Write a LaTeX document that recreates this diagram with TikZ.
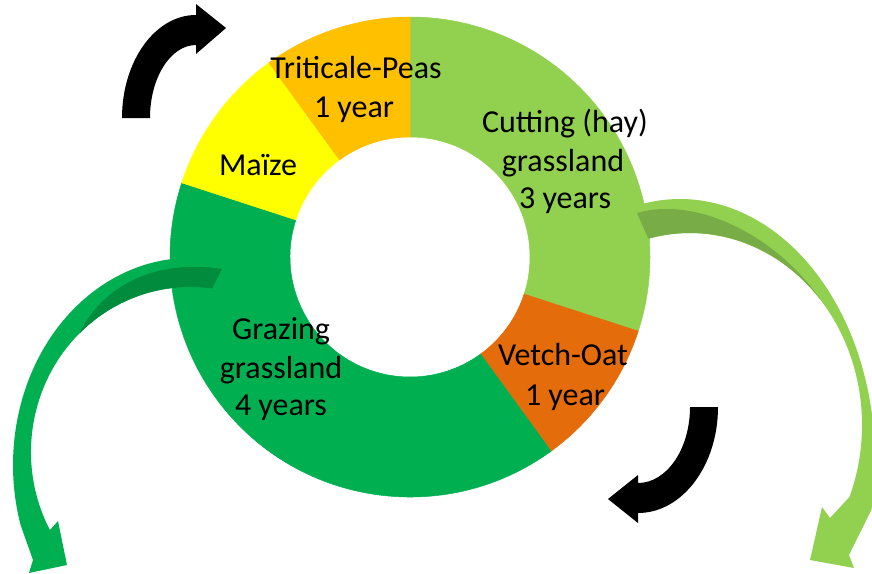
\documentclass[tikz,border=0pt]{standalone}
\usepackage{fontspec}
\setmainfont{Carlito}
\definecolor{cutg}{HTML}{92D050}
\definecolor{cutgdark}{RGB}{119,172,70}
\definecolor{vetch}{HTML}{E46C0A}
\definecolor{graze}{HTML}{00B050}
\definecolor{grazedark}{RGB}{0,140,60}
\definecolor{maize}{HTML}{FFFF00}
\definecolor{trit}{HTML}{FFC000}
\begin{document}
\begin{tikzpicture}[x=1pt,y=1pt,
  lbl/.style={font=\fontsize{32}{38}\selectfont, anchor=base, inner sep=0pt, text=black}]
\useasboundingbox (0,0) rectangle (872,-573);
\coordinate (C) at (410,-257);
% donut ring
\foreach \col/\a/\b in {cutg/90/-18, vetch/-18/-54, graze/-54/-198, maize/-198/-234, trit/-234/-270}
  \filldraw[fill=\col, draw=\col, line width=0.5pt]
    ([shift={(\a:240)}]C) arc[start angle=\a,end angle=\b,radius=240]
    -- ([shift={(\b:120)}]C) arc[start angle=\b,end angle=\a,radius=120] -- cycle;
% ellipse centres of the curved green arrows
\coordinate (LO) at (190,-465);
\coordinate (LI) at (190,-452);
\coordinate (RO) at (680,-460);
\coordinate (RI) at (690,-425);
% left green curved arrow
\fill[graze] ([shift={(78:177 and 207)}]LO) arc[start angle=78,end angle=197,x radius=177,y radius=207]
  -- (33,-560) -- (29,-573) -- (67,-565) -- (58,-521) -- (50,-530)
  -- ([shift={(208:159 and 165)}]LI) arc[start angle=208,end angle=82,x radius=159,y radius=165] -- cycle;
\fill[grazedark] ([shift={(134:159 and 165)}]LI) arc[start angle=134,end angle=82,x radius=159,y radius=165]
  -- (222,-269) .. controls (150,-258) and (100,-290) .. ([shift={(134:159 and 165)}]LI) -- cycle;
% right light-green curved arrow
\fill[cutg] ([shift={(102.7:195 and 261)}]RO) arc[start angle=102.7,end angle=-11,x radius=195,y radius=261]
  -- (849,-555) -- (854,-568) -- (810,-560) -- (822,-507) -- (830,-518)
  -- ([shift={(-22:172 and 192)}]RI) arc[start angle=-22,end angle=104,x radius=172,y radius=192] -- cycle;
\fill[cutgdark] (637,-213) .. controls (700,-195) and (780,-240) .. ([shift={(41:172 and 192)}]RI)
  arc[start angle=41,end angle=104,x radius=172,y radius=192] -- cycle;
% black curved arrows
\fill[black] (122,-118) arc[start angle=180,end angle=90,x radius=74,y radius=103]
  -- (196,-4) -- (226,-28) -- (196,-54) -- (196,-45)
  arc[start angle=90,end angle=180,x radius=46,y radius=73] -- cycle;
\fill[black] (718,-407) arc[start angle=0,end angle=-90,x radius=80,y radius=106]
  -- (638,-523) -- (608,-499) -- (638,-475) -- (638,-483)
  arc[start angle=-90,end angle=0,x radius=52,y radius=76] -- cycle;
% labels
\node[lbl] (tp1) at (356,-78) {Triticale-Peas};
\node[lbl] (tp2) at (354,-117) {1 year};
\node[lbl] (mz) at (258,-175) {Maïze};
\node[lbl] (cg1) at (565,-132) {Cutting (hay)};
\node[lbl] (cg2) at (563,-171) {grassland};
\node[lbl] (cg3) at (565,-208) {3 years};
\begin{scope}
  \clip (C) circle (241);
  \node[lbl] (vo1) at (563,-365) {Vetch-Oat};
  \node[lbl] (vo2) at (565,-405) {1 year};
\end{scope}
\node[lbl] (gz1) at (281,-339) {Grazing};
\node[lbl] (gz2) at (281,-378) {grassland};
\node[lbl] (gz3) at (281,-415) {4 years};
\end{tikzpicture}
\end{document}
